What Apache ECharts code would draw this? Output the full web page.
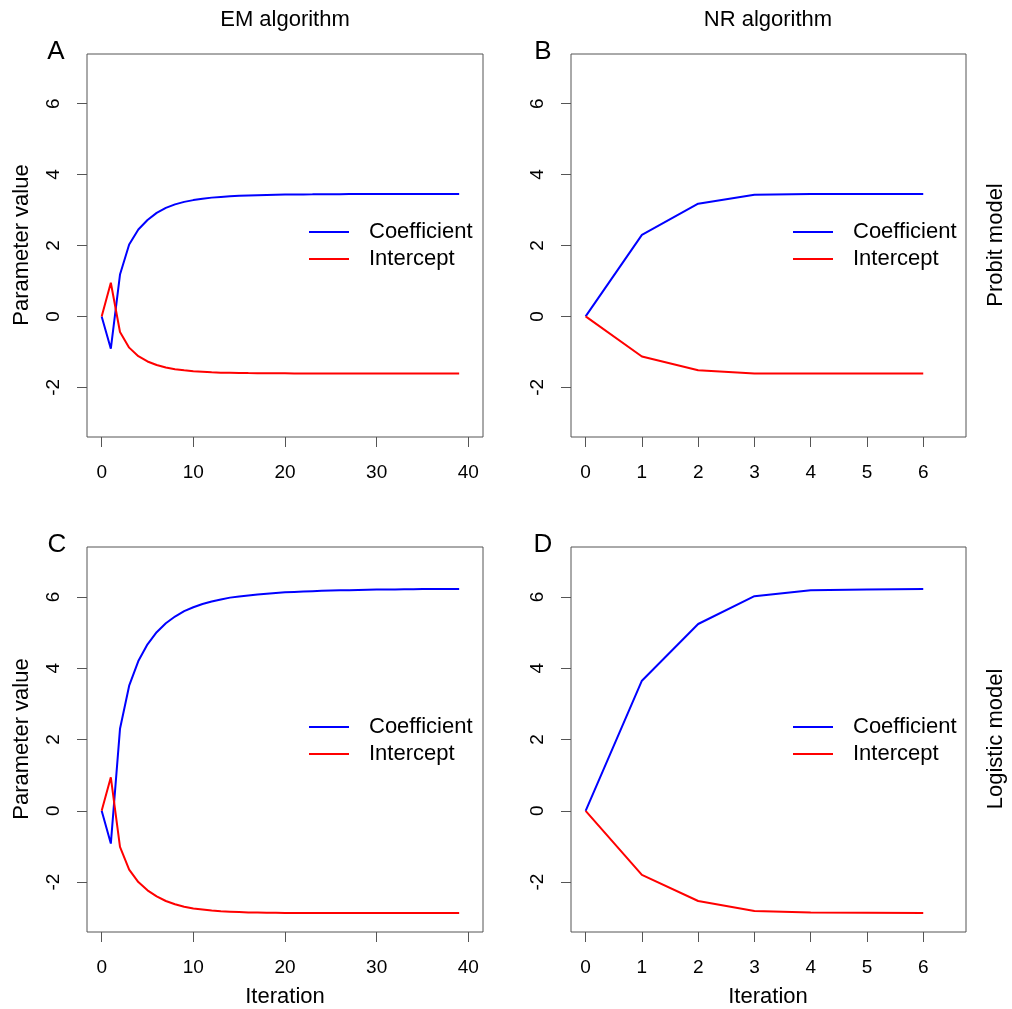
<!DOCTYPE html>
<html>
<head>
<meta charset="utf-8">
<script src="https://cdn.jsdelivr.net/npm/echarts@6/dist/echarts.min.js"></script>
<style>
html,body{margin:0;padding:0;background:#fff;}
#chart{width:1012px;height:1009px;}
</style>
</head>
<body>
<div id="chart"></div>
<script>
// ---- data ----
const iterEM = [0,1,2,3,4,5,6,7,8,9,10,11,12,13,14,15,16,17,18,19,20,21,22,23,24,25,26,27,28,29,30,31,32,33,34,35,36,37,38,39];
const iterNR = [0,1,2,3,4,5,6];

const emProbitCoef = [0,-0.91,1.18,2.03,2.45,2.72,2.92,3.06,3.16,3.23,3.28,3.32,3.35,3.37,3.39,3.40,3.41,3.42,3.425,3.43,3.435,3.44,3.44,3.442,3.445,3.447,3.448,3.45,3.45,3.45,3.45,3.45,3.45,3.45,3.45,3.45,3.45,3.45,3.45,3.45];
const emProbitInt = [0,0.95,-0.44,-0.88,-1.12,-1.27,-1.37,-1.44,-1.49,-1.52,-1.545,-1.56,-1.575,-1.585,-1.59,-1.595,-1.598,-1.60,-1.602,-1.604,-1.605,-1.606,-1.607,-1.608,-1.608,-1.609,-1.609,-1.61,-1.61,-1.61,-1.61,-1.61,-1.61,-1.61,-1.61,-1.61,-1.61,-1.61,-1.61,-1.61];
const emLogitCoef = [0,-0.92,2.30,3.51,4.20,4.67,5.01,5.26,5.45,5.60,5.71,5.80,5.87,5.93,5.98,6.01,6.04,6.07,6.09,6.11,6.13,6.14,6.15,6.16,6.17,6.18,6.185,6.19,6.195,6.20,6.205,6.21,6.21,6.215,6.215,6.22,6.22,6.22,6.22,6.22];
const emLogitInt = [0,0.94,-1.01,-1.65,-2.00,-2.23,-2.40,-2.53,-2.62,-2.69,-2.74,-2.77,-2.80,-2.82,-2.83,-2.84,-2.85,-2.855,-2.86,-2.862,-2.864,-2.865,-2.866,-2.867,-2.868,-2.869,-2.87,-2.87,-2.87,-2.87,-2.87,-2.87,-2.87,-2.87,-2.87,-2.87,-2.87,-2.87,-2.87,-2.87];

const nrProbitCoef = [0,2.30,3.18,3.43,3.45,3.45,3.45];
const nrProbitInt = [0,-1.13,-1.52,-1.61,-1.61,-1.61,-1.61];
const nrLogitCoef = [0,3.65,5.24,6.02,6.19,6.21,6.22];
const nrLogitInt = [0,-1.80,-2.53,-2.81,-2.85,-2.86,-2.87];

const xTicksEM = [0,10,20,30,40];
const xTicksNR = [0,1,2,3,4,5,6];
const yTicks = [-2,0,2,4,6];

const seriesNames = ['Coefficient','Intercept'];
const colTitles = ['EM algorithm','NR algorithm'];
const rowTitles = ['Probit model','Logistic model'];
const panelLetters = ['A','B','C','D'];
const xAxisTitle = 'Iteration';
const yAxisTitle = 'Parameter value';

// ---- build ----
const FONT = '"Liberation Sans", Arial, Helvetica, sans-serif';
const AX = '#555';
const zip = (xs, ys) => xs.map((x, i) => [x, ys[i]]);

const grids = [
  {left: 87, top: 54, width: 396, height: 383},
  {left: 571, top: 54, width: 395, height: 383},
  {left: 87, top: 547, width: 396, height: 385},
  {left: 571, top: 547, width: 395, height: 385}
].map(g => Object.assign(g, {show: true, borderColor: AX, borderWidth: 1, backgroundColor: 'transparent', containLabel: false}));

function xAx(gi, em) {
  return {
    type: 'value', gridIndex: gi, position: 'bottom',
    min: em ? -1.6 : -0.26, max: em ? 41.6 : 6.76,
    axisLine: {show: false, onZero: false},
    splitLine: {show: false},
    axisTick: {show: true, inside: false, length: 10, lineStyle: {color: AX, width: 1}, customValues: em ? xTicksEM : xTicksNR},
    axisLabel: {show: true, margin: 26, fontSize: 19, color: '#000', fontFamily: FONT, customValues: em ? xTicksEM : xTicksNR}
  };
}
function yAx(gi) {
  return {
    type: 'value', gridIndex: gi, position: 'left',
    min: -3.4, max: 7.4,
    axisLine: {show: false, onZero: false},
    splitLine: {show: false},
    axisTick: {show: true, inside: false, length: 10, lineStyle: {color: AX, width: 1}, customValues: yTicks},
    axisLabel: {show: true, margin: 24, rotate: 90, fontSize: 19, color: '#000', fontFamily: FONT, customValues: yTicks}
  };
}

const panels = [
  {x: iterEM, c: emProbitCoef, i: emProbitInt, em: true},
  {x: iterNR, c: nrProbitCoef, i: nrProbitInt, em: false},
  {x: iterEM, c: emLogitCoef, i: emLogitInt, em: true},
  {x: iterNR, c: nrLogitCoef, i: nrLogitInt, em: false}
];

const series = [];
panels.forEach((p, k) => {
  series.push({name: seriesNames[0], type: 'line', xAxisIndex: k, yAxisIndex: k, data: zip(p.x, p.c), symbol: 'none', lineStyle: {color: '#0000ff', width: 2}, itemStyle: {color: '#0000ff'}, silent: true, z: 2});
  series.push({name: seriesNames[1], type: 'line', xAxisIndex: k, yAxisIndex: k, data: zip(p.x, p.i), symbol: 'none', lineStyle: {color: '#ff0000', width: 2}, itemStyle: {color: '#ff0000'}, silent: true, z: 3});
});

const legendPos = [[309, 221], [793, 221], [309, 716], [793, 716]];
const legends = legendPos.map(([l, t]) => ({
  orient: 'vertical', left: l, top: t, padding: 0,
  itemWidth: 40, itemHeight: 2, itemGap: 5, icon: 'rect',
  selectedMode: false,
  data: seriesNames,
  textStyle: {fontSize: 22, lineHeight: 22, color: '#000', fontFamily: FONT, padding: [0, 0, 0, 15]}
}));

function txt(text, x, y, size, rot) {
  return {
    type: 'text', x: x, y: y, rotation: rot || 0, silent: true,
    style: {text: text, fontSize: size, fontFamily: FONT, fill: '#000', textAlign: 'center', textVerticalAlign: 'middle'}
  };
}

const graphics = [
  txt(colTitles[0], 285, 20, 22),
  txt(colTitles[1], 768, 20, 22),
  txt(panelLetters[0], 56, 52, 26),
  txt(panelLetters[1], 543, 52, 26),
  txt(panelLetters[2], 57, 545, 26),
  txt(panelLetters[3], 543, 545, 26),
  txt(yAxisTitle, 22, 245, 22, Math.PI / 2),
  txt(yAxisTitle, 22, 739, 22, Math.PI / 2),
  txt(rowTitles[0], 996, 245, 22, Math.PI / 2),
  txt(rowTitles[1], 996, 739, 22, Math.PI / 2),
  txt(xAxisTitle, 285, 997, 22),
  txt(xAxisTitle, 768, 997, 22)
];

const chart = echarts.init(document.getElementById('chart'), null, {renderer: 'canvas'});
chart.setOption({
  backgroundColor: '#fff',
  animation: false,
  textStyle: {fontFamily: FONT},
  grid: grids,
  xAxis: panels.map((p, k) => xAx(k, p.em)),
  yAxis: panels.map((p, k) => yAx(k)),
  legend: legends,
  series: series,
  graphic: graphics
});
</script>
</body>
</html>
